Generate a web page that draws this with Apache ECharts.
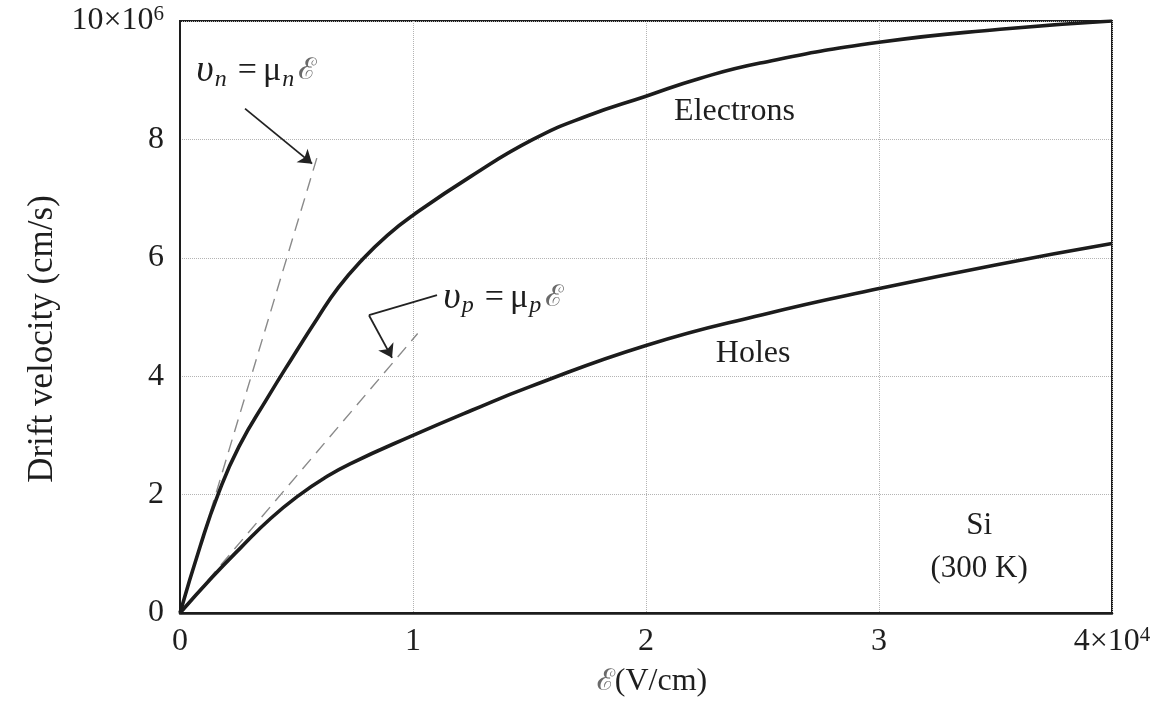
<!DOCTYPE html>
<html>
<head>
<meta charset="utf-8">
<script src="https://cdn.jsdelivr.net/npm/echarts@6/dist/echarts.min.js"></script>
<style>
  html, body { margin: 0; padding: 0; background: #fff; }
  #chart { width: 1164px; height: 710px; }
</style>
</head>
<body>
<div id="chart"></div>
<script>
// Drift velocity of carriers in silicon at 300 K versus electric field.
// Field in units of 10^4 V/cm, velocity in units of 10^6 cm/s.
const electronField = [0, 0.086, 0.163, 0.253, 0.378, 0.48, 0.59, 0.68, 0.78, 0.89, 1.0, 1.25, 1.515, 1.75, 2.0, 2.23, 2.49, 3.0, 3.52, 4.0];
const electronVel   = [0, 1.12, 2.0, 2.81, 3.65, 4.3, 4.98, 5.5, 5.96, 6.38, 6.72, 7.38, 8.0, 8.4, 8.73, 9.03, 9.29, 9.64, 9.86, 10.0];

const holeField = [0, 0.137, 0.26, 0.39, 0.515, 0.62, 0.73, 1.0, 1.25, 1.5, 2.0, 2.5, 3.0, 3.5, 4.0];
const holeVel   = [0, 0.6, 1.1, 1.6, 2.0, 2.28, 2.52, 3.0, 3.42, 3.82, 4.52, 5.04, 5.48, 5.88, 6.24];

// Low-field (ohmic) lines v = mu * E
const electronOhmicField = [0, 0.593];
const electronOhmicVel   = [0, 7.76];
const holeOhmicField = [0, 1.02];
const holeOhmicVel   = [0, 4.72];

// Axis ticks
const xTicks = [0, 1, 2, 3, 4];
const yTicks = [0, 2, 4, 6, 8, 10];

// Text labels
const curveNames = ['Electrons', 'Holes'];
const materialLines = ['Si', '(300 K)'];

const pairs = (xs, ys) => xs.map((x, i) => [x, ys[i]]);

const serif = '"Liberation Serif", "DejaVu Serif", "Noto Serif", serif';
const ink = '#1c1c1c';
const textInk = '#1e1e1e';

const formulaRich = {
  v:   { fontFamily: serif, fontSize: 38, fontStyle: 'italic', color: textInk, lineHeight: 40, verticalAlign: 'middle' },
  op:  { fontFamily: serif, fontSize: 34, color: textInk, lineHeight: 40, verticalAlign: 'middle', padding: [0, 6, 0, 7] },
  mu:  { fontFamily: serif, fontSize: 34, color: textInk, lineHeight: 40, verticalAlign: 'middle' },
  sub: { fontFamily: serif, fontSize: 24, fontStyle: 'italic', color: textInk, lineHeight: 24, verticalAlign: 'bottom', padding: [26, 4, 0, 1] },
  e:   { fontFamily: serif, fontSize: 30, fontStyle: 'italic', color: '#6a6a6a', lineHeight: 40, verticalAlign: 'middle' }
};

const plainLabel = (text, size) => ({
  show: true, position: 'inside', formatter: text, opacity: 1,
  fontFamily: serif, fontSize: size, color: textInk, lineHeight: size + 4
});

const tickRich = {
  n:   { fontFamily: serif, fontSize: 32, color: textInk, lineHeight: 34, verticalAlign: 'middle' },
  sup: { fontFamily: serif, fontSize: 21, color: textInk, lineHeight: 21, verticalAlign: 'top', padding: [0, 0, 14, 0] }
};

const arrowStyle = { color: '#222', width: 1.8, opacity: 1, curveness: 0 };

const chart = echarts.init(document.getElementById('chart'), null, { renderer: 'canvas' });

chart.setOption({
  animation: false,
  backgroundColor: '#fff',
  grid: {
    left: 180, right: 52, top: 21, bottom: 97,
    show: true, borderColor: ink, borderWidth: 2, backgroundColor: 'transparent'
  },
  xAxis: {
    type: 'value', min: xTicks[0], max: xTicks[xTicks.length - 1], interval: 1,
    name: '{e|ℰ}{n|(V/cm)}',
    nameLocation: 'middle', nameGap: 53,
    nameTextStyle: {
      padding: [0, 0, 0, 12],
      rich: {
        e: { fontFamily: serif, fontSize: 30, fontStyle: 'italic', color: '#6a6a6a' },
        n: { fontFamily: serif, fontSize: 32, color: textInk }
      }
    },
    axisLine: { show: true, lineStyle: { color: ink, width: 2.5 } },
    axisTick: { show: false },
    splitLine: { show: true, lineStyle: { color: '#b4b4b4', type: 'dotted', width: 1 } },
    axisLabel: {
      margin: 12,
      formatter: v => v === 4 ? '{n|4×10}{sup|4}' : '{n|' + v + '}',
      rich: tickRich
    }
  },
  yAxis: {
    type: 'value', min: yTicks[0], max: yTicks[yTicks.length - 1], interval: 2,
    name: 'Drift velocity (cm/s)',
    nameLocation: 'middle', nameGap: 120, nameRotate: 90,
    nameTextStyle: { fontFamily: serif, fontSize: 35, color: textInk, padding: [0, 44, 0, 0] },
    axisLine: { show: true, lineStyle: { color: ink, width: 2 } },
    axisTick: { show: false },
    splitLine: { show: true, lineStyle: { color: '#b4b4b4', type: 'dotted', width: 1 } },
    axisLabel: {
      margin: 16,
      formatter: v => v === 10 ? '{n|10×10}{sup|6}' : '{n|' + v + '}',
      rich: tickRich
    }
  },
  series: [
    {
      name: 'electron-ohmic', type: 'line', data: pairs(electronOhmicField, electronOhmicVel),
      symbol: 'none', z: 2,
      lineStyle: { color: '#8a8a8a', width: 1.4, type: [13, 8] }
    },
    {
      name: 'hole-ohmic', type: 'line', data: pairs(holeOhmicField, holeOhmicVel),
      symbol: 'none', z: 2,
      lineStyle: { color: '#8a8a8a', width: 1.4, type: [13, 8] }
    },
    {
      name: curveNames[0], type: 'line', data: pairs(electronField, electronVel),
      symbol: 'none', smooth: 0.5, z: 3,
      lineStyle: { color: ink, width: 3.6 }
    },
    {
      name: curveNames[1], type: 'line', data: pairs(holeField, holeVel),
      symbol: 'none', smooth: 0.5, z: 3,
      lineStyle: { color: ink, width: 3.6 }
    },
    {
      // leader segment without a head
      type: 'lines', coordinateSystem: 'cartesian2d', z: 4,
      symbol: ['none', 'none'],
      lineStyle: arrowStyle,
      data: [
        { coords: [[1.103, 5.37], [0.811, 5.03]] }
      ]
    },
    {
      // pointer arrows for the two ohmic lines
      type: 'lines', coordinateSystem: 'cartesian2d', z: 4,
      symbol: ['none', 'arrow'], symbolSize: 13,
      lineStyle: arrowStyle,
      data: [
        { coords: [[0.279, 8.52], [0.567, 7.59]] },
        { coords: [[0.811, 5.03], [0.91, 4.31]] }
      ]
    },
    {
      // text annotations placed in data coordinates
      type: 'scatter', symbolSize: 0, z: 5, silent: true,
      itemStyle: { opacity: 1 },
      data: [
        { value: [2.38, 8.47], label: plainLabel(curveNames[0], 32) },
        { value: [2.46, 4.39], label: plainLabel(curveNames[1], 32) },
        { value: [3.43, 1.47], label: plainLabel(materialLines[0], 31) },
        { value: [3.43, 0.75], label: plainLabel(materialLines[1], 31) },
        {
          value: [0.07, 9.15],
          label: {
            show: true, position: 'right', distance: 0, opacity: 1,
            formatter: '{v|υ}{sub|n}{op|=}{mu|μ}{sub|n}{e|ℰ}', rich: formulaRich
          }
        },
        {
          value: [1.13, 5.32],
          label: {
            show: true, position: 'right', distance: 0, opacity: 1,
            formatter: '{v|υ}{sub|p}{op|=}{mu|μ}{sub|p}{e|ℰ}', rich: formulaRich
          }
        }
      ]
    }
  ]
});
</script>
</body>
</html>
